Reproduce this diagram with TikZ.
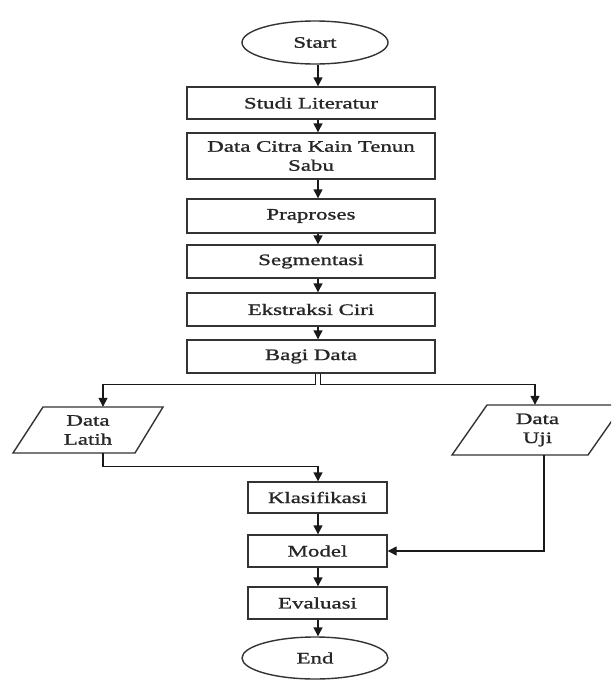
\documentclass[tikz,border=0pt]{standalone}
\usepackage{fontspec}
\setmainfont{Liberation Serif}[FakeStretch=1.43,FakeBold=1.2]
\usetikzlibrary{arrows.meta,shapes.geometric}
\tikzset{
  ln/.style={draw=black!80, line width=1.4pt},
  txt/.style={inner sep=0pt, align=center, font=\fontsize{16}{19}\selectfont, text=black!85},
  box/.style={ln, txt, rectangle},
  wide/.style={box, minimum width=248pt},
  narrow/.style={box, minimum width=139pt},
  term/.style={ln, txt, ellipse, minimum width=146pt},
  io/.style={txt, draw=none},
  arr/.style={draw=black!90, line width=1.4pt, -{Triangle[length=9pt,width=9pt]}},
}
\begin{document}
\begin{tikzpicture}[x=1pt,y=-1pt]
\useasboundingbox (0,0) rectangle (611,680);
\clip (0,0) rectangle (611,680);
\fill[white] (0,0) rectangle (611,680);

\coordinate (col) at (318,0);
\coordinate (lcol) at (315.5,0);
\coordinate (rcol) at (320.5,0);
\coordinate (lx) at (103,0);
\coordinate (rx) at (535,0);
\coordinate (ux) at (544,0);

\node[term, minimum height=43pt] (start) at (315,42.5) {Start};
\node[wide, minimum height=32pt] (studi) at (311,103) {Studi Literatur};
\node[wide, minimum height=46pt] (citra) at (311,156) {Data Citra Kain Tenun\\Sabu};
\node[wide, minimum height=34pt] (prap) at (311,216) {Praproses};
\node[wide, minimum height=33pt] (segm) at (311,261.5) {Segmentasi};
\node[wide, minimum height=33pt] (eks) at (311,309.5) {Ekstraksi Ciri};
\node[wide, minimum height=33pt] (bagi) at (311,356.5) {Bagi Data};

\draw[ln] (13,453) -- (135,453) -- (163,407) -- (43,407) -- cycle;
\node[io, minimum height=46pt] (latih) at (88,430) {Data\\Latih};
\draw[ln] (452,455) -- (588,455) -- (623,405) -- (487,405) -- cycle;
\node[io, minimum height=50pt] (uji) at (537.5,430) {Data\\Uji};

\node[narrow, minimum height=31pt] (klas) at (317.5,497.5) {Klasifikasi};
\node[narrow, minimum height=32pt] (model) at (317.5,551) {Model};
\node[narrow, minimum height=32pt] (eval) at (317.5,603) {Evaluasi};
\node[term, minimum height=42pt] (end) at (315,658) {End};

\draw[arr] (start.south -| col) -- (studi.north -| col);
\draw[arr] (studi.south -| col) -- (citra.north -| col);
\draw[arr] (citra.south -| col) -- (prap.north -| col);
\draw[arr] (prap.south -| col) -- (segm.north -| col);
\draw[arr] (segm.south -| col) -- (eks.north -| col);
\draw[arr] (eks.south -| col) -- (bagi.north -| col);

\draw[arr] (bagi.south -| lcol) -- ++(0,11) -| (latih.north -| lx);
\draw[arr] (bagi.south -| rcol) -- ++(0,11) -| (uji.north -| rx);

\draw[arr] (latih.south -| lx) -- ++(0,13) -| (klas.north -| col);
\draw[arr] (uji.south -| ux) |- (model.east);

\draw[arr] (klas.south -| col) -- (model.north -| col);
\draw[arr] (model.south -| col) -- (eval.north -| col);
\draw[arr] (eval.south -| col) -- (end.north -| col);
\end{tikzpicture}
\end{document}
